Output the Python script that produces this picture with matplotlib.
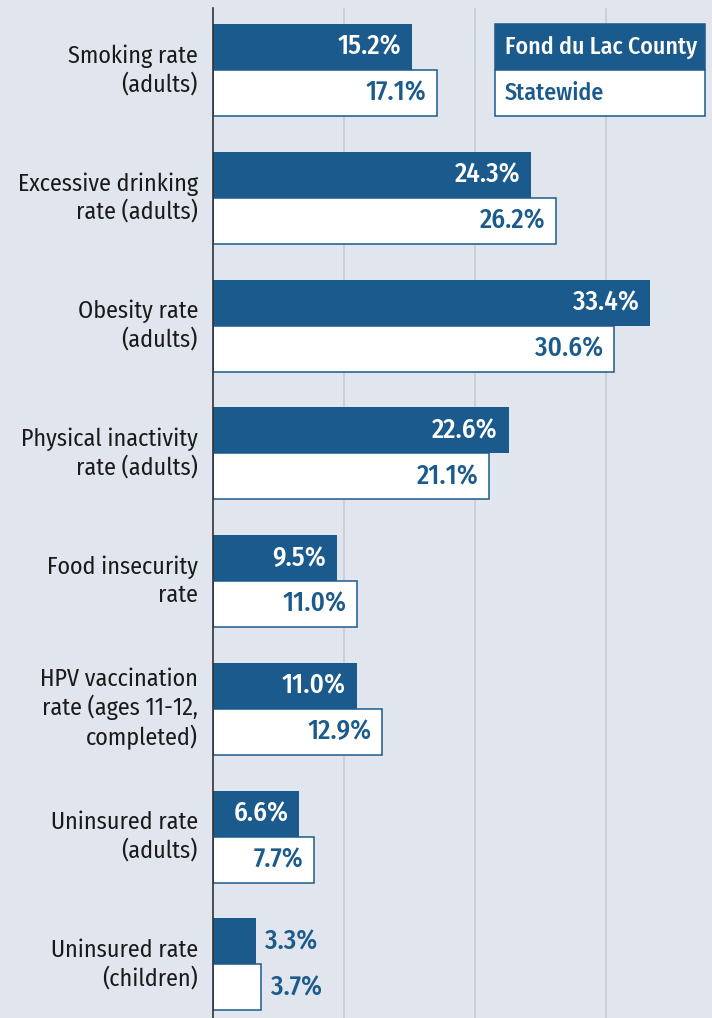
import matplotlib
matplotlib.use('Agg')
import numpy as np
import matplotlib.pyplot as plt
from matplotlib.patches import Rectangle

# data
categories = ['Smoking rate\n(adults)',
              'Excessive drinking\nrate (adults)',
              'Obesity rate\n(adults)',
              'Physical inactivity\nrate (adults)',
              'Food insecurity\nrate',
              'HPV vaccination\nrate (ages 11-12,\ncompleted)',
              'Uninsured rate\n(adults)',
              'Uninsured rate\n(children)']
county = [15.2, 24.3, 33.4, 22.6, 9.5, 11.0, 6.6, 3.3]
state = [17.1, 26.2, 30.6, 21.1, 11.0, 12.9, 7.7, 3.7]
legend_labels = ['Fond du Lac County', 'Statewide']

BLUE = '#1b5a8c'
BG = '#e1e5ee'
GRID = '#c5ccd8'
plt.rcParams['font.family'] = ['Fira Sans Condensed', 'DejaVu Sans']

W, H = 712, 1018
fig = plt.figure(figsize=(W / 100, H / 100), dpi=100)
fig.patch.set_facecolor(BG)
ax = fig.add_axes([213 / W, 0, 1 - 213 / W, 1 - 8 / H])
ax.set_facecolor(BG)

y = np.arange(len(categories))
bh = 0.36
ax.barh(y - bh / 2, county, height=bh, color=BLUE, edgecolor='none', zorder=3)
ax.barh(y + bh / 2, state, height=bh, color='white', edgecolor=BLUE,
        linewidth=1.1, zorder=3)

ax.set_xlim(0, 38.1)
ax.set_ylim(len(categories) - 1 + 0.42, -0.486)
ax.set_xticks([10, 20, 30])
ax.grid(axis='x', color=GRID, linewidth=1.2, zorder=0)
ax.tick_params(length=0, labelbottom=False, labelleft=False)
for s in ['top', 'right', 'bottom']:
    ax.spines[s].set_visible(False)
ax.spines['left'].set_color('#333333')
ax.spines['left'].set_linewidth(1.2)
ax.spines['left'].set_zorder(4)

lab_kw = dict(fontsize=19.5, fontweight='medium', va='center', zorder=5)
for i in range(len(categories)):
    c, s = county[i], state[i]
    if c > 5:
        ax.text(c - 0.85, i - bh / 2, f'{c:.1f}%', ha='right', color='white', **lab_kw)
    else:
        ax.text(c + 0.7, i - bh / 2, f'{c:.1f}%', ha='left', color=BLUE, **lab_kw)
    if s > 5:
        ax.text(s - 0.8, i + bh / 2, f'{s:.1f}%', ha='right', color=BLUE, **lab_kw)
    else:
        ax.text(s + 0.7, i + bh / 2, f'{s:.1f}%', ha='left', color=BLUE, **lab_kw)
    ax.text(-1.15, i, categories[i], ha='right', va='center', fontsize=17.3,
            color='#1a1a1a', linespacing=1.22, clip_on=False)

# legend box
lx0, lx1 = 495 / W, 705 / W
ly_top, ly_mid, ly_bot = 1 - 24 / H, 1 - 70 / H, 1 - 116 / H
fig.patches.append(Rectangle((lx0, ly_mid), lx1 - lx0, ly_top - ly_mid,
                             transform=fig.transFigure, facecolor=BLUE,
                             edgecolor=BLUE, linewidth=1.1, zorder=6))
fig.patches.append(Rectangle((lx0, ly_bot), lx1 - lx0, ly_mid - ly_bot,
                             transform=fig.transFigure, facecolor='white',
                             edgecolor=BLUE, linewidth=1.1, zorder=6))
fig.text(lx0 + 10 / W, (ly_top + ly_mid) / 2, legend_labels[0], color='white',
         fontsize=17.2, fontweight='medium', va='center', ha='left', zorder=7)
fig.text(lx0 + 10 / W, (ly_mid + ly_bot) / 2, legend_labels[1], color=BLUE,
         fontsize=17.2, fontweight='medium', va='center', ha='left', zorder=7)

fig.savefig('out.png', dpi=100, facecolor=BG)
